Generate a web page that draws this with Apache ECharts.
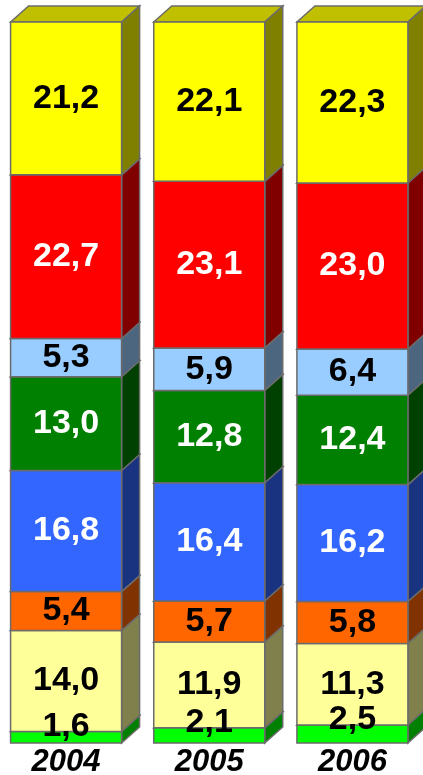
<!DOCTYPE html>
<html>
<head>
<meta charset="utf-8">
<style>
  html, body { margin: 0; padding: 0; background: #fff; }
  #chart { width: 423px; height: 775px; }
</style>
<script src="https://cdn.jsdelivr.net/npm/echarts@6/dist/echarts.min.js"></script>
</head>
<body>
<div id="chart"></div>
<script>
const years = ['2004', '2005', '2006'];

// bottom to top
const brightGreen = [1.6, 2.1, 2.5];
const paleYellow = [14.0, 11.9, 11.3];
const orange = [5.4, 5.7, 5.8];
const blue = [16.8, 16.4, 16.2];
const green = [13.0, 12.8, 12.4];
const lightBlue = [5.3, 5.9, 6.4];
const red = [22.7, 23.1, 23.0];
const yellow = [21.2, 22.1, 22.3];

const stackSeries = [brightGreen, paleYellow, orange, blue, green, lightBlue, red, yellow];

const faceStyles = [
  { front: '#00ff00', side: '#008000', top: '#00c000', text: '#000' },
  { front: '#ffff99', side: '#80804d', top: '#c0c073', text: '#000' },
  { front: '#ff6600', side: '#803300', top: '#c04c00', text: '#000' },
  { front: '#3366ff', side: '#1a3380', top: '#264cc0', text: '#fff' },
  { front: '#008000', side: '#004000', top: '#006000', text: '#fff' },
  { front: '#99ccff', side: '#4d6680', top: '#7399c0', text: '#000' },
  { front: '#ff0000', side: '#800000', top: '#c00000', text: '#fff' },
  { front: '#ffff00', side: '#808000', top: '#c0c000', text: '#000' },
];

const BAR_W = 111;
const DX = 18;
const DY = 16;
const EDGE = '#6b6b6b';

// build segment items as percent of each column's total
const items = [];
years.forEach((year, i) => {
  const total = stackSeries.reduce((s, arr) => s + arr[i], 0);
  let acc = 0;
  stackSeries.forEach((arr, j) => {
    const start = acc / total * 100;
    acc += arr[i];
    const end = acc / total * 100;
    items.push([i, start, end, j, arr[i]]);
  });
});

function renderItem(params, api) {
  const cat = api.value(0);
  const j = api.value(3);
  const raw = api.value(4);
  const p0 = api.coord([cat, api.value(1)]);
  const p1 = api.coord([cat, api.value(2)]);
  const x0 = p0[0] - BAR_W / 2;
  const x1 = p0[0] + BAR_W / 2;
  const yb = p0[1];
  const yt = p1[1];
  const st = faceStyles[j];
  const h = yb - yt;
  const labelY = h < 25 ? yt - 5 : (yt + yb) / 2;

  return {
    type: 'group',
    children: [
      {
        type: 'polygon',
        shape: { points: [[x0, yt], [x1, yt], [x1 + DX, yt - DY], [x0 + DX, yt - DY]] },
        style: { fill: st.top, stroke: EDGE, lineWidth: 1.5 },
      },
      {
        type: 'polygon',
        shape: { points: [[x1, yb], [x1 + DX, yb - DY], [x1 + DX, yt - DY], [x1, yt]] },
        style: { fill: st.side, stroke: EDGE, lineWidth: 1.5 },
      },
      {
        type: 'rect',
        shape: { x: x0, y: yt, width: BAR_W, height: h },
        style: { fill: st.front, stroke: EDGE, lineWidth: 1.5 },
      },
      {
        type: 'text',
        z2: 100,
        style: {
          x: p0[0],
          y: labelY,
          text: raw.toFixed(1).replace('.', ','),
          fill: st.text,
          font: 'bold 34px "Liberation Sans", Arial, sans-serif',
          align: 'center',
          verticalAlign: 'middle',
        },
      },
    ],
  };
}

const chart = echarts.init(document.getElementById('chart'), null, { renderer: 'canvas' });
chart.setOption({
  animation: false,
  grid: { left: -5.5, right: -1, top: 22, bottom: 32, outerBoundsMode: 'none', containLabel: false },
  xAxis: {
    type: 'category',
    data: years,
    axisLine: { show: false },
    axisTick: { show: false },
    axisLabel: {
      color: '#000',
      fontFamily: '"Liberation Sans", Arial, sans-serif',
      fontWeight: 'bold',
      fontStyle: 'italic',
      fontSize: 31,
      margin: 4,
    },
  },
  yAxis: {
    type: 'value',
    min: 0,
    max: 100,
    show: false,
  },
  series: [
    {
      type: 'custom',
      renderItem: renderItem,
      clip: false,
      data: items,
    },
  ],
});
</script>
</body>
</html>
